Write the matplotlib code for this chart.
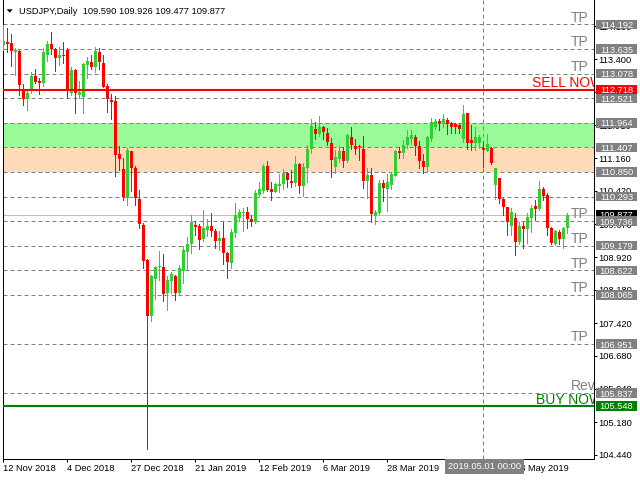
import matplotlib
matplotlib.use("Agg")
import matplotlib.pyplot as plt
import numpy as np
from matplotlib.patches import Rectangle, Polygon
from matplotlib.transforms import blended_transform_factory, ScaledTranslation

plt.rcParams['font.family'] = ['Liberation Sans', 'DejaVu Sans']

# daily USDJPY bars, 12 Nov 2018 .. 30 May 2019
opens = [
    113.73, 113.80, 113.77, 113.58, 113.59, 112.73, 112.50, 112.71, 113.03, 112.91,
    112.86, 113.50, 113.75, 113.64, 113.44, 113.50, 113.62, 112.65, 113.16, 112.59,
    112.56, 113.27, 113.34, 113.24, 113.57, 113.32, 112.80, 112.48, 112.46, 111.26,
    110.92, 110.25, 111.33, 110.94, 110.24, 109.65, 108.86, 107.59, 108.43, 108.70,
    108.70, 108.10, 108.39, 108.49, 108.10, 108.61, 109.04, 109.22, 109.65, 109.63,
    109.33, 109.54, 109.63, 109.51, 109.29, 109.36, 109.02, 108.79, 109.47, 109.81,
    109.925, 109.94, 109.78, 109.71, 110.33, 110.42, 110.99, 110.46, 110.40, 110.54,
    110.58, 110.83, 110.65, 110.60, 111.03, 110.54, 110.95, 111.36, 111.82, 111.70,
    111.87, 111.73, 111.50, 110.97, 111.14, 111.33, 111.10, 111.65, 111.44, 111.44,
    111.37, 110.65, 110.78, 109.86, 109.93, 110.60, 110.46, 110.56, 110.76, 111.33,
    111.29, 111.45, 111.60, 111.65, 111.44, 111.11, 110.97, 111.59, 111.88, 112.01,
    111.93, 112.03, 111.97, 111.94, 111.91, 111.59, 112.18, 111.58, 111.51, 111.50,
    111.40, 111.33, 111.39, 110.56, 110.72, 110.23, 110.06, 109.63, 109.80, 109.27,
    109.63, 109.55, 109.80, 110.08, 110.00, 110.46, 110.33, 109.57, 109.22, 109.50,
    109.32, 109.59]
highs = [
    114.17, 114.11, 113.98, 113.66, 113.61, 112.84, 112.73, 113.12, 113.18, 112.97,
    113.65, 113.82, 114.02, 113.67, 113.69, 113.79, 113.65, 113.23, 113.18, 112.91,
    113.33, 113.45, 113.50, 113.68, 113.65, 113.50, 112.84, 112.62, 112.57, 111.44,
    111.16, 111.40, 111.33, 110.99, 110.44, 109.70, 108.87, 108.52, 108.73, 109.06,
    108.99, 108.49, 108.59, 108.52, 108.75, 109.17, 109.38, 109.88, 109.75, 109.67,
    109.99, 109.78, 109.93, 109.55, 109.51, 109.71, 109.04, 109.55, 110.14, 110.01,
    110.04, 110.06, 109.88, 110.44, 110.62, 111.03, 111.10, 110.62, 110.59, 110.80,
    110.92, 110.85, 110.89, 111.21, 111.05, 111.05, 111.46, 112.05, 111.98, 112.12,
    111.89, 111.84, 111.63, 111.35, 111.44, 111.42, 111.70, 111.87, 111.60, 111.46,
    111.67, 110.93, 110.93, 109.99, 110.67, 110.67, 110.80, 110.83, 111.34, 111.42,
    111.58, 111.80, 111.80, 111.69, 111.56, 111.26, 111.67, 112.08, 112.05, 112.05,
    112.16, 112.07, 111.99, 111.95, 111.93, 112.37, 112.19, 111.91, 111.88, 111.69,
    111.54, 111.70, 111.42, 110.93, 110.72, 110.25, 110.06, 110.03, 109.91, 109.72,
    109.72, 109.91, 110.10, 110.22, 110.65, 110.50, 110.37, 109.60, 109.54, 109.54,
    109.61, 109.926]
lows = [
    113.61, 113.56, 113.26, 113.05, 112.59, 112.37, 112.25, 112.63, 112.86, 112.62,
    112.80, 113.37, 113.52, 113.14, 113.27, 113.33, 112.53, 112.59, 112.19, 112.52,
    112.19, 112.97, 113.18, 113.12, 113.18, 112.78, 112.22, 112.06, 110.76, 110.90,
    110.22, 110.10, 110.43, 110.10, 109.59, 108.68, 104.57, 107.48, 107.97, 108.40,
    107.93, 107.72, 108.11, 107.95, 108.08, 108.34, 108.65, 109.02, 109.42, 109.11,
    109.29, 109.41, 109.40, 109.13, 109.08, 108.77, 108.45, 108.68, 109.38, 109.75,
    109.51, 109.57, 109.63, 109.69, 110.31, 110.37, 110.42, 110.22, 110.39, 110.40,
    110.46, 110.52, 110.52, 110.54, 110.37, 110.31, 110.63, 111.27, 111.60, 111.67,
    111.59, 111.45, 110.74, 110.82, 111.08, 110.97, 111.07, 111.36, 111.26, 111.12,
    110.49, 110.27, 109.72, 109.68, 109.89, 110.19, 109.97, 110.46, 110.75, 111.17,
    111.17, 111.40, 111.48, 111.24, 110.95, 110.82, 110.86, 111.55, 111.82, 111.80,
    111.88, 111.71, 111.73, 111.74, 111.73, 111.54, 111.36, 111.35, 111.35, 111.39,
    110.97, 111.33, 111.03, 110.23, 110.14, 109.88, 109.42, 109.42, 108.97, 109.22,
    109.12, 109.23, 109.50, 109.76, 109.99, 110.22, 109.42, 109.22, 109.20, 109.22,
    109.12, 109.477]
closes = [
    113.82, 113.76, 113.59, 113.60, 112.81, 112.50, 112.63, 113.03, 112.90, 112.86,
    113.58, 113.75, 113.64, 113.44, 113.50, 113.48, 112.74, 113.16, 112.65, 112.67,
    113.29, 113.37, 113.24, 113.60, 113.35, 112.78, 112.50, 112.44, 111.24, 111.14,
    110.29, 111.35, 110.95, 110.27, 109.66, 108.84, 107.59, 108.49, 108.70, 108.72,
    108.09, 108.40, 108.54, 108.10, 108.67, 109.08, 109.22, 109.72, 109.60, 109.31,
    109.59, 109.63, 109.52, 109.29, 109.36, 109.02, 108.80, 109.48, 109.88, 109.94,
    109.94, 109.78, 109.72, 110.37, 110.46, 110.99, 110.44, 110.40, 110.58, 110.58,
    110.83, 110.67, 110.60, 111.03, 110.54, 110.96, 111.37, 111.89, 111.72, 111.87,
    111.75, 111.54, 111.12, 111.19, 111.33, 111.10, 111.69, 111.46, 111.37, 111.42,
    110.65, 110.78, 109.90, 109.95, 110.60, 110.48, 110.62, 110.80, 111.33, 111.29,
    111.46, 111.65, 111.69, 111.44, 111.11, 110.97, 111.65, 111.98, 112.01, 111.97,
    112.05, 111.93, 111.88, 111.86, 111.82, 112.16, 111.51, 111.50, 111.64, 111.64,
    111.35, 111.48, 111.05, 110.93, 110.23, 110.06, 109.72, 109.95, 109.27, 109.63,
    109.55, 109.84, 110.03, 110.00, 110.46, 110.31, 109.57, 109.23, 109.51, 109.33,
    109.57, 109.877]

date_ticks = [0, 16, 32, 48, 64, 80, 96, 112, 128]
date_labels = ['12 Nov 2018', '4 Dec 2018', '27 Dec 2018', '21 Jan 2019', '12 Feb 2019',
               '6 Mar 2019', '28 Mar 2019', '19 Apr 2019', '13 May 2019']
cursor_bar = 120
cursor_label = '2019.05.01 00:00'

grid_levels = [114.192, 113.635, 113.078, 112.521, 111.964, 111.407, 110.850,
               110.293, 109.736, 109.179, 108.622, 108.065, 106.951, 105.837]
tp_levels = [114.192, 113.635, 113.078, 109.736, 109.179, 108.622, 108.065, 106.951]
rev_level = 105.837
sell_level = 112.718
buy_level = 105.548
last_price = 109.877
green_zone = (111.407, 111.964)
peach_zone = (110.850, 111.407)
price_ticks = [104.44, 105.18, 105.94, 106.68, 107.42, 108.18, 108.92, 109.67,
               110.42, 111.16, 111.91, 112.66, 113.40, 114.15]

UP = '#32CD32'
DOWN = '#FF0000'
GREY = '#808080'
FS = 6.7

fig = plt.figure(figsize=(6.4, 4.8), dpi=100)
ax = fig.add_axes([3 / 640, 21 / 480, 591 / 640, 459 / 480])
ax.set_xlim(-0.075, 147.675)
ax.set_ylim(104.346, 114.747)

o = np.array(opens); h = np.array(highs); l = np.array(lows); c = np.array(closes)
x = np.arange(len(o))
cols = np.where(c >= o, UP, DOWN)

ax.axhspan(*green_zone, color='#98FB98', lw=0, zorder=0)
ax.axhspan(*peach_zone, color='#FFDAB9', lw=0, zorder=0)
ax.axhline(last_price, color='#C0C0C0', lw=0.8, zorder=1)
for lv in grid_levels:
    ax.axhline(lv, color=GREY, lw=0.72, ls=(0, (4, 3)), zorder=1.5)
ax.axvline(cursor_bar, color=GREY, lw=0.72, ls=(0, (4, 3)), zorder=1.5)

# candles: crisp 1px wicks, 3px bodies
ax.vlines(x, l, h, colors=cols, lw=0.72, zorder=3, antialiased=False)
body_lo = np.minimum(o, c)
body_h = np.maximum(np.abs(c - o), 0.025)
ax.bar(x, body_h, bottom=body_lo, width=0.75, color=cols, lw=0, zorder=4)

ax.axhline(sell_level, color='#FF0000', lw=1.5, zorder=5)
ax.axhline(buy_level, color='#008000', lw=1.5, zorder=5)

# in-chart labels, cut off at the chart border
def chart_text(xpos, y, s, color, dy):
    off = ScaledTranslation(0, dy / 72, fig.dpi_scale_trans)
    t = ax.text(xpos, y, s, color=color, fontsize=10, va='baseline', ha='left',
                transform=ax.transData + off, zorder=6, clip_on=True)
    t.set_clip_box(ax.bbox)
    return t

for lv in tp_levels:
    chart_text(141.85, lv, 'TP', GREY, 2)
chart_text(141.85, rev_level, 'Reversal', GREY, 2)
chart_text(132.1, sell_level, 'SELL NOW', '#FF0000', 1.5)
chart_text(133.2, buy_level, 'BUY NOW', '#008000', 1.5)

# right price scale
ax.yaxis.tick_right()
ax.set_yticks(price_ticks)
ax.set_yticklabels(['%.3f' % v for v in price_ticks])
ax.tick_params(axis='y', direction='out', length=2.2, width=0.72, pad=0.8,
               labelsize=FS, colors='black')
ax.set_xticks(date_ticks)
ax.set_xticklabels(date_labels, ha='left')
ax.tick_params(axis='x', direction='out', length=2.2, width=0.72, pad=1.2,
               labelsize=FS, colors='black')
for s in ['left', 'right', 'bottom']:
    ax.spines[s].set_linewidth(0.72)
    ax.spines[s].set_color('black')
ax.spines['top'].set_visible(False)

tr = blended_transform_factory(ax.transAxes, ax.transData)
box_x0 = (596 - 3) / 591
box_w = 41 / 591
box_h = 9.5 / 44.13

def price_box(p, fc, z):
    ax.add_patch(Rectangle((box_x0, p - box_h / 2), box_w, box_h, transform=tr,
                           fc=fc, ec='none', clip_on=False, zorder=z))
    ax.text(box_x0 + box_w / 2, p, '%.3f' % p, transform=tr, ha='center',
            va='center_baseline', color='white', fontsize=FS, clip_on=False,
            zorder=z + 0.5)

price_box(last_price, 'black', 8)
for lv in grid_levels:
    price_box(lv, GREY, 10)
price_box(sell_level, '#FF0000', 12)
price_box(buy_level, '#008000', 12)

ax.text(cursor_bar + 0.3, -0.006, cursor_label,
        transform=blended_transform_factory(ax.transData, ax.transAxes),
        ha='center', va='top', color='white', fontsize=FS, clip_on=False, zorder=12,
        bbox=dict(boxstyle='square,pad=0.3', fc=GREY, ec='none'))

# header
fig.text(19 / 640, 1 - 11 / 480, 'USDJPY,Daily  109.590 109.926 109.477 109.877',
         fontsize=FS, va='center', ha='left', color='black')
tri = np.array([[6.7, 9.3], [12.7, 9.3], [9.7, 12.7]])
fig.patches.append(Polygon(np.column_stack([tri[:, 0] / 640, 1 - tri[:, 1] / 480]),
                           closed=True, fc='black', ec='none',
                           transform=fig.transFigure, figure=fig))

fig.savefig('out.png', dpi=100, facecolor='white')
